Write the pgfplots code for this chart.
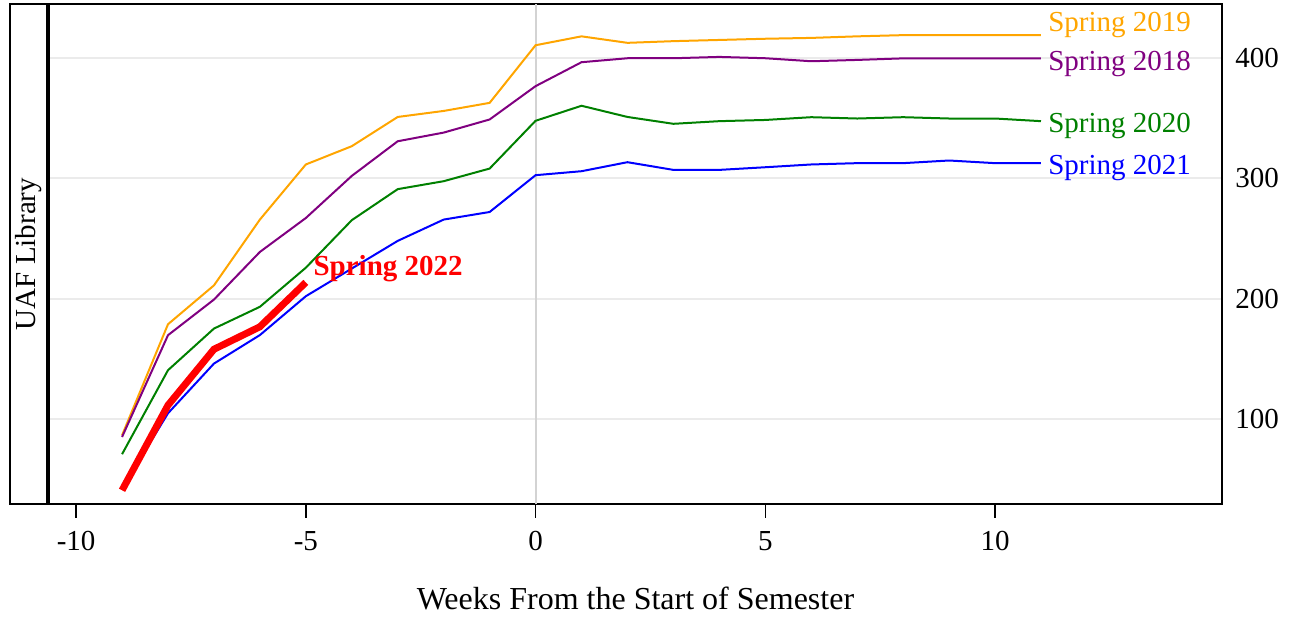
\documentclass[border=0pt]{standalone}
\usepackage{pgfplots}
\pgfplotsset{compat=1.18}
\usepackage{fontspec}
\setmainfont{Liberation Serif}
\definecolor{cOrange}{HTML}{FFA500}
\definecolor{cPurple}{HTML}{800080}
\definecolor{cGreen}{HTML}{008000}
\definecolor{cBlue}{HTML}{0000FF}
\definecolor{cRed}{HTML}{FF0000}
\definecolor{gridc}{HTML}{EBEBEB}
\definecolor{zeroc}{HTML}{D3D3D3}
\begin{document}
\begin{tikzpicture}
\begin{axis}[
  scale only axis,
  width=586.5pt, height=250pt,
  xmin=-10.59, xmax=14.94,
  ymin=29.3, ymax=444.9,
  clip=false,
  axis line style={line width=1.1pt},
  xtick={-10,-5,0,5,10},
  ytick={100,200,300,400},
  yticklabel pos=right,
  ytick style={draw=none},
  xtick pos=bottom,
  tick align=outside,
  major tick length=7pt,
  xtick style={black, line width=0.8pt},
  ymajorgrids,
  grid style={gridc, line width=1pt},
  /pgf/number format/assume math mode=true,
  ticklabel style={font=\fontsize{14.5}{17}\selectfont},
  xticklabel style={yshift=-3pt},
  yticklabel style={xshift=-3.8pt},
  xlabel={Weeks From the Start of Semester},
  xlabel style={font=\fontsize{16}{19}\selectfont, at={(axis description cs:0.5,0)}, anchor=base, yshift=-53pt},
]
\draw[zeroc, line width=1pt] (axis cs:0,29.3) -- (axis cs:0,444.9);

\addplot[cOrange, line width=1pt] coordinates {
(-9,86.4) (-8,178.7) (-7,211) (-6,265.7) (-5,311.5) (-4,326.7) (-3,351) (-2,356) (-1,362.7) (0,410.6) (1,418) (2,412.6) (3,414) (4,415) (5,416) (6,416.7) (7,418) (8,419) (9,419) (10,419) (11,419)};
\addplot[cPurple, line width=1pt] coordinates {
(-9,85) (-8,169.6) (-7,199.2) (-6,238.8) (-5,267) (-4,302) (-3,330.8) (-2,338) (-1,348.9) (0,376.6) (1,396.5) (2,399.8) (3,399.8) (4,400.9) (5,399.8) (6,397.3) (7,398.4) (8,399.7) (9,399.7) (10,399.7) (11,399.7)};
\addplot[cGreen, line width=1pt] coordinates {
(-9,70.7) (-8,140.5) (-7,175.1) (-6,193.2) (-5,225.7) (-4,265.2) (-3,291) (-2,297.6) (-1,308.1) (0,347.8) (1,360.3) (2,351) (3,345.3) (4,347.5) (5,348.5) (6,350.8) (7,349.7) (8,350.8) (9,349.7) (10,349.7) (11,347.5)};
\addplot[cBlue, line width=1pt] coordinates {
(-9,42) (-8,104.7) (-7,146) (-6,169.7) (-5,202) (-4,225) (-3,248) (-2,265.7) (-1,272) (0,302.6) (1,305.9) (2,313.4) (3,307) (4,307) (5,309.2) (6,311.5) (7,312.6) (8,312.6) (9,314.8) (10,312.6) (11,312.6)};
\addplot[cRed, line width=3.5pt] coordinates {
(-9,40.7) (-8,111.4) (-7,157.9) (-6,176.6) (-5,213.5)};

\node[anchor=base west, inner sep=0pt, text=cOrange, font=\fontsize{14.5}{17}\selectfont] at (axis cs:11.15,422) {Spring 2019};
\node[anchor=base west, inner sep=0pt, text=cPurple, font=\fontsize{14.5}{17}\selectfont] at (axis cs:11.15,390) {Spring 2018};
\node[anchor=base west, inner sep=0pt, text=cGreen, font=\fontsize{14.5}{17}\selectfont] at (axis cs:11.15,338) {Spring 2020};
\node[anchor=base west, inner sep=0pt, text=cBlue, font=\fontsize{14.5}{17}\selectfont] at (axis cs:11.15,303.3) {Spring 2021};
\node[anchor=base west, inner sep=0pt, text=cRed, font=\bfseries\fontsize{14.5}{17}\selectfont] at (axis cs:-4.84,219.6) {Spring 2022};
\end{axis}
% facet strip
\draw[line width=1.1pt] ([xshift=-19.5pt]current axis.south west) rectangle ([xshift=-1pt]current axis.north west);
\node[rotate=90, font=\fontsize{14.5}{17}\selectfont, inner sep=0pt] at ([xshift=-10.25pt]current axis.west) {UAF Library};
\pgfresetboundingbox
\path[use as bounding box] ([shift={(-24.5pt,-57.5pt)}]current axis.south west) rectangle ([shift={(623.5pt,252pt)}]current axis.south west);
\end{tikzpicture}
\end{document}
